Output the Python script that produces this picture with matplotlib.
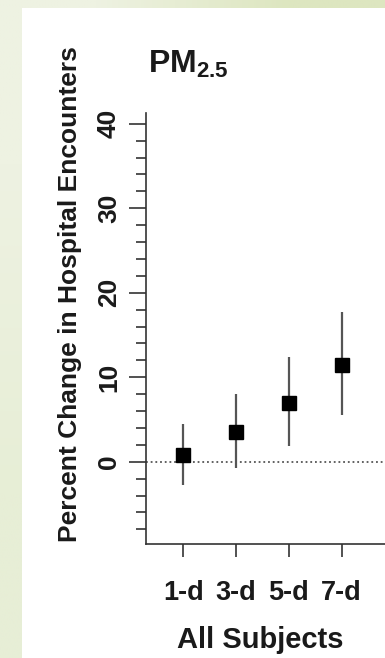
import numpy as np
import matplotlib.pyplot as plt
from matplotlib.patches import Rectangle

# lag windows and estimates (percent change, 95% CI)
lags = ["1-d", "3-d", "5-d", "7-d"]
estimate = [0.8, 3.55, 6.9, 11.4]
ci_low = [-2.8, -0.8, 1.9, 5.5]
ci_high = [4.5, 8.0, 12.4, 17.75]

yticks_major = [0, 10, 20, 30, 40]
yticks_minor = [-8, -6, -4, -2, 2, 4, 6, 8, 12, 14, 16, 18, 22, 24, 26, 28, 32, 34, 36, 38]

plt.rcParams["font.family"] = ["Liberation Sans", "DejaVu Sans"]
INK = "#1a1a1a"

fig = plt.figure(figsize=(3.85, 6.58), dpi=100)

# greenish slide background with a soft gradient
bg = fig.add_axes([0, 0, 1, 1], zorder=-10)
corners = np.array([[[0xee, 0xf2, 0xe2], [0xdd, 0xe6, 0xc0]],
                    [[0xe7, 0xee, 0xd6], [0xdd, 0xe6, 0xc0]]]) / 255.0
bg.imshow(corners, extent=[0, 1, 0, 1], aspect="auto", interpolation="bilinear")
bg.add_patch(Rectangle((22 / 385, 0), 1, 1 - 8 / 658, color="white", lw=0))
bg.set_xlim(0, 1)
bg.set_ylim(0, 1)
bg.axis("off")

ax = fig.add_axes([146 / 385, 1 - 544 / 658, 1 - 146 / 385, (544 - 113) / 658])
ax.patch.set_alpha(0)

x = np.arange(1, len(lags) + 1)
ax.axhline(0, color="#555555", lw=1.3, ls=(0, (1, 1.6)), zorder=1)
ax.vlines(x, ci_low, ci_high, color="#555555", lw=1.6, zorder=2)
ax.plot(x, estimate, ls="none", marker="s", ms=9.5, color="black", zorder=3)

ax.set_xlim(0.292, 4.82)
ax.set_ylim(-9.74, 41.27)

for side in ["top", "right"]:
    ax.spines[side].set_visible(False)
for side in ["left", "bottom"]:
    ax.spines[side].set_color("#333333")
    ax.spines[side].set_linewidth(1.2)

ax.set_xticks(x)
ax.set_xticklabels(lags, fontsize=19.5, color=INK, fontweight="bold")
ax.tick_params(axis="x", length=9, width=1.2, color="#333333", pad=17)

ax.set_yticks(yticks_major)
ax.set_yticks(yticks_minor, minor=True)
ax.set_yticklabels([str(v) for v in yticks_major], rotation=90, va="center",
                   fontsize=19, fontweight="bold", color=INK)
ax.tick_params(axis="y", which="major", length=12, width=1.2, color="#333333", pad=6)
ax.tick_params(axis="y", which="minor", length=7, width=1.2, color="#333333")

ax.set_xlabel("All Subjects", fontsize=21, fontweight="bold", color=INK)
ax.xaxis.label.set_va("center")
ax.xaxis.set_label_coords((260 - 146) / (385 - 146), -(640 - 544) / (544 - 113))
ax.set_ylabel("Percent Change in Hospital Encounters", fontsize=19,
              fontweight="bold", color=INK)
ax.yaxis.set_label_coords(-(146 - 82) / (385 - 146), (544 - 294) / (544 - 113))

fig.text(148 / 385, 1 - 64 / 658, r"PM$_{\mathregular{2.5}}$", fontsize=23,
         fontweight="bold", color=INK, ha="left", va="center")

fig.savefig("out.png", dpi=100)
